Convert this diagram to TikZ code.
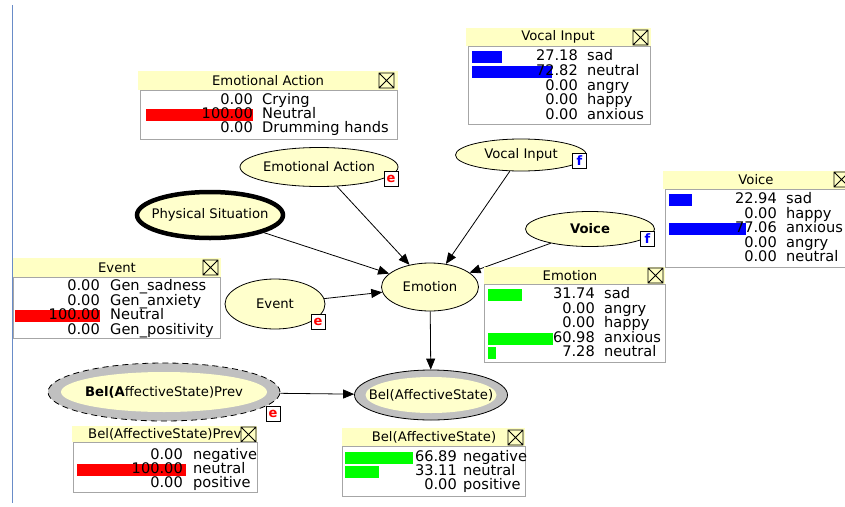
\documentclass[tikz,border=0pt]{standalone}
\usepackage{fontspec}
\setmainfont{DejaVu Sans}
\usetikzlibrary{arrows.meta,shapes.geometric}

\definecolor{nodeyellow}{RGB}{255,255,204}
\definecolor{titleyellow}{RGB}{255,255,196}
\definecolor{bandgray}{RGB}{192,192,192}
\definecolor{rulerblue}{RGB}{105,140,200}
\definecolor{barred}{RGB}{255,0,0}
\definecolor{barblue}{RGB}{0,0,255}
\definecolor{bargreen}{RGB}{0,255,0}

% close button of a monitor window
\newcommand{\closebox}[2]{%
  \draw[fill=titleyellow, line width=.8pt] (#1,#2) rectangle ++(15,15)
    (#1,#2) -- ++(15,15) (#1+15,#2) -- ++(-15,15);}

\begin{document}
\begin{tikzpicture}[x=1pt, y=-1pt,
    bn/.style={ellipse, draw, fill=nodeyellow, line width=.8pt, inner sep=0pt},
    inner/.style={ellipse, fill=nodeyellow, inner sep=0pt},
    txt/.style={inner sep=0pt, font=\fontsize{13.2}{15}\selectfont},
    evbox/.style={draw, fill=white, line width=.8pt, minimum width=14, minimum height=15,
      inner sep=0pt, anchor=south east, font=\fontsize{13}{13}\selectfont\bfseries},
    titlebar/.style={fill=titleyellow},
    body/.style={fill=white, draw=gray!70, line width=.8pt},
    ttl/.style={inner sep=0pt, font=\fontsize{13.2}{15}\selectfont},
    cell/.style={inner sep=0pt, text height=10, text depth=3, font=\fontsize{14.6}{15}\selectfont},
    link/.style={-{Triangle[length=11pt,width=9pt]}, line width=.8pt}]
  \fill[white] (0,0) rectangle (845,506);
  \clip (0,0) rectangle (845,506);
  \draw[rulerblue, line width=1.8pt] (12.5,5) -- (12.5,503);

  % network
  \node[bn, minimum width=158, minimum height=39] (ea) at (319,167) {};
  \node[bn, line width=4.5pt, minimum width=146, minimum height=46] (phys) at (210,215) {};
  \node[bn, minimum width=131, minimum height=32] (voc) at (521,155) {};
  \node[bn, minimum width=129, minimum height=35] (voice) at (590,229) {};
  \node[bn, minimum width=97, minimum height=48] (emo) at (430,287) {};
  \node[bn, minimum width=100, minimum height=50] (event) at (275,304) {};
  \node[bn, fill=bandgray, minimum width=153, minimum height=50] (bel) at (431,395) {};
  \node[inner, minimum width=131, minimum height=36] (belIn) at (bel) {};
  \node[bn, fill=bandgray, dash pattern=on 6pt off 4pt, minimum width=232, minimum height=58] (belp) at (164,392) {};
  \node[inner, minimum width=206, minimum height=40] (belpIn) at (belp) {};

  \node[txt] (eaL) at (ea) {Emotional Action};
  \node[txt] (physL) at (phys) {Physical Situation};
  \node[txt] (vocL) at (voc) {Vocal Input};
  \node[txt, font=\fontsize{13.2}{15}\selectfont\bfseries] (voiceL) at (voice) {Voice};
  \node[txt] (emoL) at (emo) {Emotion};
  \node[txt] (eventL) at (event) {Event};
  \node[txt] (belL) at (bel) {Bel(AffectiveState)};
  \node[txt] (belpL) at (belp) {\textbf{Bel(A}ffectiveState)Prev};

  \node[evbox, text=red] (eaE) at (ea.south -| ea.east) {e};
  \node[evbox, text=blue] (vocF) at ([yshift=3]voc.south -| voc.east) {f};
  \node[evbox, text=blue] (voiceF) at (voice.south -| voice.east) {f};
  \node[evbox, text=red] (eventE) at (event.south -| event.east) {e};
  \node[evbox, text=red] (belpE) at (belp.south -| belp.east) {e};

  \draw[link] (ea) -- (emo);
  \draw[link] (phys) -- (emo);
  \draw[link] (voc) -- (emo);
  \draw[link] (voice) -- (emo);
  \draw[link] (event) -- (emo);
  \draw[link] (emo) -- (bel);
  \draw[link] (belp) -- (bel);

  % Vocal Input window
  \fill[titlebar] (466,28) rectangle (651,46);
  \node[ttl] (vocT) at (558,37) {Vocal Input};
  \closebox{633}{30}
  \draw[body] (468,46) rectangle (650,124);
  \foreach \v/\s [count=\i from 0] in {27.18/sad, 72.82/neutral, 0.00/angry, 0.00/happy, 0.00/anxious}{
    \ifdim\v pt>0pt \fill[barblue] (472,57+14.75*\i-6) rectangle ++(1.10*\v,12); \fi
    \node[cell, anchor=east] (vocN\i) at (578,57+14.75*\i) {\v};
    \node[cell, anchor=west] (vocS\i) at (587,57+14.75*\i) {\s};
  }

  % Emotional Action window
  \fill[titlebar] (138,71) rectangle (398,90);
  \node[ttl] (eaT) at (268,80.5) {Emotional Action};
  \closebox{379}{73}
  \draw[body] (140,90) rectangle (397,139);
  \foreach \v/\s [count=\i from 0] in {0.00/Crying, 100.00/Neutral, 0.00/Drumming hands}{
    \ifdim\v pt>0pt \fill[barred] (146,101+14*\i-6) rectangle ++(1.07*\v,12); \fi
    \node[cell, anchor=east] (eaN\i) at (253,101+14*\i) {\v};
    \node[cell, anchor=west] (eaS\i) at (262,101+14*\i) {\s};
  }

  % Voice window
  \fill[titlebar] (663,171) rectangle (850,189);
  \node[ttl] (voiceT) at (756,180) {Voice};
  \closebox{834}{172}
  \draw[body] (665,189) rectangle (849,267);
  \foreach \v/\s [count=\i from 0] in {22.94/sad, 0.00/happy, 77.06/anxious, 0.00/angry, 0.00/neutral}{
    \ifdim\v pt>0pt \fill[barblue] (669,200+14.5*\i-6) rectangle ++(1.00*\v,12); \fi
    \node[cell, anchor=east] (voiceN\i) at (777,200+14.5*\i) {\v};
    \node[cell, anchor=west] (voiceS\i) at (786,200+14.5*\i) {\s};
  }

  % Event window
  \fill[titlebar] (13,258) rectangle (221,277);
  \node[ttl] (eventT) at (117,267.5) {Event};
  \closebox{203}{260}
  \draw[body] (13,277) rectangle (220,338);
  \foreach \v/\s [count=\i from 0] in {0.00/Gen\_sadness, 0.00/Gen\_anxiety, 100.00/Neutral, 0.00/Gen\_positivity}{
    \ifdim\v pt>0pt \fill[barred] (15,287+14.5*\i-6) rectangle ++(0.85*\v,12); \fi
    \node[cell, anchor=east] (eventN\i) at (100,287+14.5*\i) {\v};
    \node[cell, anchor=west] (eventS\i) at (110,287+14.5*\i) {\s};
  }

  % Emotion window
  \fill[titlebar] (484,267) rectangle (665,284);
  \node[ttl] (emoT) at (570,275.5) {Emotion};
  \closebox{648}{268}
  \draw[body] (484,284) rectangle (665,362);
  \foreach \v/\s [count=\i from 0] in {31.74/sad, 0.00/angry, 0.00/happy, 60.98/anxious, 7.28/neutral}{
    \ifdim\v pt>0pt \fill[bargreen] (488,295+14.5*\i-6) rectangle ++(1.07*\v,12); \fi
    \node[cell, anchor=east] (emoN\i) at (595,295+14.5*\i) {\v};
    \node[cell, anchor=west] (emoS\i) at (604,295+14.5*\i) {\s};
  }

  % Bel(AffectiveState)Prev window
  \fill[titlebar] (72,426) rectangle (257,442);
  \node[ttl, anchor=west] (belpT) at (88,434) {Bel(AffectiveState)Prev};
  \closebox{241}{427}
  \draw[body] (73,442) rectangle (257,492);
  \foreach \v/\s [count=\i from 0] in {0.00/negative, 100.00/neutral, 0.00/positive}{
    \ifdim\v pt>0pt \fill[barred] (77,456+14*\i-6) rectangle ++(1.09*\v,12); \fi
    \node[cell, anchor=east] (belpN\i) at (183,456+14*\i) {\v};
    \node[cell, anchor=west] (belpS\i) at (193,456+14*\i) {\s};
  }

  % Bel(AffectiveState) window
  \fill[titlebar] (342,428) rectangle (525,446);
  \node[ttl] (belT) at (434,437) {Bel(AffectiveState)};
  \closebox{508}{430}
  \draw[body] (342,446) rectangle (525,496);
  \foreach \v/\s [count=\i from 0] in {66.89/negative, 33.11/neutral, 0.00/positive}{
    \ifdim\v pt>0pt \fill[bargreen] (345,458+14*\i-6) rectangle ++(1.02*\v,12); \fi
    \node[cell, anchor=east] (belN\i) at (457,458+14*\i) {\v};
    \node[cell, anchor=west] (belS\i) at (463,458+14*\i) {\s};
  }
\end{tikzpicture}
\end{document}
